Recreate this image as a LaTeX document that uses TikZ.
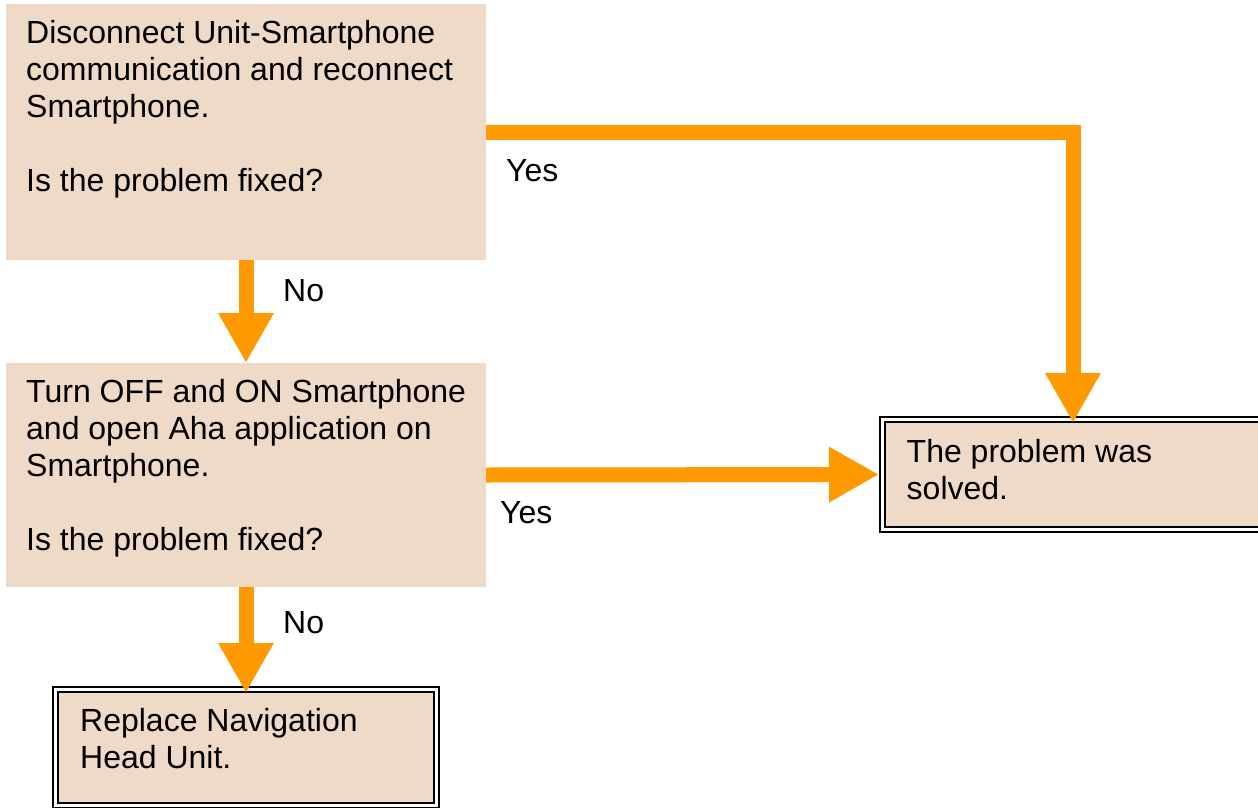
\documentclass[tikz,border=0pt]{standalone}
\usepackage{fontspec}
\setmainfont{Liberation Sans}
\usetikzlibrary{arrows.meta}
\definecolor{boxfill}{RGB}{239,217,199}
\definecolor{flow}{RGB}{255,153,0}
\begin{document}
\begin{tikzpicture}[x=1pt,y=-1pt,
  plainbox/.style={fill=boxfill, draw=none, inner sep=0, outer sep=0, anchor=north west},
  endbox/.style={fill=boxfill, draw=black, line width=2pt, double=white, double distance=2.5pt, inner sep=0, outer sep=0, anchor=north west},
  txt/.style={font=\fontsize{32}{37}\selectfont, align=left, inner sep=0, anchor=base west},
  lbl/.style={font=\fontsize{32}{37}\selectfont, inner sep=0, anchor=base west},
  conn/.style={draw=flow, line width=15pt, -{Triangle[width=52pt,length=50pt]}}]
\useasboundingbox (0,0) rectangle (1258,808);
% boxes
\node[plainbox, minimum width=480pt, minimum height=256pt] (q1) at (6,4) {};
\node[plainbox, minimum width=480pt, minimum height=224pt] (q2) at (6,363) {};
\node[endbox, minimum width=381pt, minimum height=110pt] (solved) at (882.5,419.5) {};
\node[endbox, minimum width=381pt, minimum height=116pt] (fix) at (55.5,689.5) {};
% texts (anchored at the baseline of their last line)
\node[txt] (t1) at (26,191) {Disconnect Unit-Smartphone\\communication and reconnect\\Smartphone.\\[37pt]Is the problem fixed?};
\node[txt] (t2) at (26,550) {Turn OFF and ON Smartphone\\and open Aha application on\\Smartphone.\\[37pt]Is the problem fixed?};
\node[txt] (t3) at (906.5,499.5) {The problem was\\solved.};
\node[txt] (t4) at (80,768.3) {Replace Navigation\\Head Unit.};
% connectors
\draw[conn] (q1.east) -| ([yshift=-3.5pt]solved.north);
\draw[conn] (q1.south) -- (q2.north);
\draw[conn] (q2.east) -- ([xshift=-3.5pt]solved.west);
\draw[conn] (q2.south) -- ([yshift=-3.5pt]fix.north);
% labels
\node[lbl] (yes1) at (506,181) {Yes};
\node[lbl] (no1) at (283,301) {No};
\node[lbl] (yes2) at (500,523) {Yes};
\node[lbl] (no2) at (283,633) {No};
\end{tikzpicture}
\end{document}
